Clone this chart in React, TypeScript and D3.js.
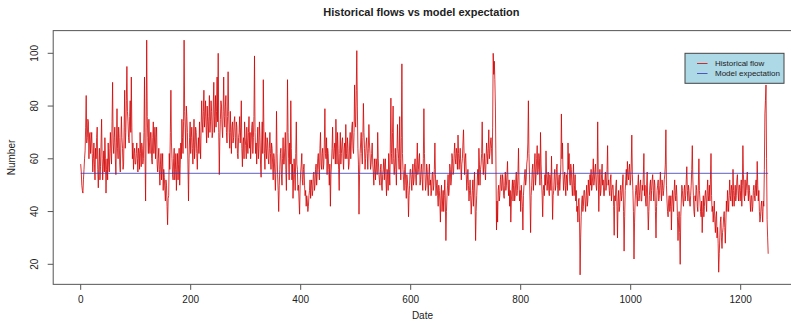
import React from "react";
import { scaleLinear, line } from "d3";

// daily flow, day 0 .. 1250
const flow = [
  58, 55, 50, 48, 47, 52, 56, 60, 63, 72, 84, 66, 68, 75, 74, 60, 69, 70, 62, 66,
  70, 62, 55, 60, 66, 58, 52, 64, 60, 68, 72, 56, 49, 58, 64, 52, 57, 66, 75, 60,
  52, 58, 63, 55, 68, 60, 47, 56, 60, 52, 66, 58, 55, 64, 70, 62, 58, 74, 89, 66,
  62, 68, 72, 60, 54, 66, 79, 64, 60, 72, 68, 58, 55, 66, 76, 68, 64, 56, 58, 72,
  86, 64, 70, 82, 95, 78, 74, 68, 66, 76, 82, 70, 91, 72, 60, 66, 56, 62, 64, 58,
  58, 62, 66, 60, 55, 64, 62, 56, 70, 62, 57, 66, 64, 58, 60, 70, 91, 60, 44, 72,
  105, 76, 68, 62, 75, 66, 62, 70, 70, 60, 58, 68, 74, 62, 66, 72, 60, 68, 72, 58,
  55, 60, 64, 56, 50, 58, 62, 52, 57, 62, 48, 56, 53, 48, 44, 52, 50, 42, 35, 45,
  46, 62, 56, 70, 86, 66, 60, 54, 52, 60, 64, 52, 56, 62, 48, 56, 62, 52, 58, 64,
  50, 58, 66, 60, 75, 68, 62, 74, 105, 78, 72, 64, 80, 76, 70, 58, 44, 60, 68, 74,
  62, 68, 72, 64, 58, 66, 75, 60, 64, 72, 70, 62, 56, 64, 68, 62, 74, 66, 60, 72,
  82, 74, 70, 78, 86, 72, 76, 82, 72, 66, 80, 74, 68, 76, 84, 70, 74, 82, 78, 68,
  70, 80, 89, 70, 76, 84, 72, 78, 91, 74, 100, 70, 54, 68, 75, 82, 80, 72, 68, 78,
  91, 76, 72, 80, 84, 70, 66, 76, 93, 78, 70, 64, 78, 70, 62, 72, 74, 66, 68, 74,
  76, 68, 64, 74, 72, 62, 60, 68, 70, 76, 66, 72, 82, 64, 57, 66, 68, 60, 74, 68,
  65, 60, 72, 66, 62, 70, 76, 64, 70, 60, 66, 72, 74, 62, 68, 76, 99, 70, 62, 66,
  58, 66, 72, 60, 64, 74, 68, 58, 53, 66, 74, 62, 90, 72, 62, 56, 70, 64, 60, 68,
  66, 60, 58, 64, 70, 62, 56, 66, 64, 58, 52, 62, 60, 54, 48, 58, 78, 62, 54, 48,
  40, 50, 56, 62, 64, 54, 50, 60, 68, 58, 58, 64, 70, 56, 48, 66, 90, 70, 60, 52,
  66, 58, 82, 64, 52, 58, 45, 52, 60, 54, 48, 62, 74, 58, 56, 48, 50, 44, 39, 50,
  55, 58, 62, 52, 50, 56, 58, 50, 46, 48, 42, 46, 44, 40, 42, 46, 48, 52, 45, 50,
  52, 46, 48, 54, 55, 48, 50, 56, 58, 50, 54, 60, 62, 56, 52, 64, 70, 58, 56, 62,
  64, 56, 58, 66, 79, 62, 60, 68, 54, 64, 62, 56, 50, 58, 42, 54, 58, 64, 72, 60,
  60, 64, 66, 58, 75, 66, 58, 70, 64, 56, 48, 62, 70, 58, 62, 66, 68, 60, 56, 64,
  66, 60, 73, 62, 60, 68, 64, 56, 58, 66, 70, 60, 66, 72, 74, 64, 62, 70, 88, 74,
  72, 86, 101, 80, 64, 58, 39, 54, 62, 66, 70, 62, 58, 68, 81, 70, 64, 56, 60, 66,
  68, 62, 56, 64, 73, 66, 62, 56, 58, 62, 66, 58, 55, 50, 60, 56, 52, 60, 58, 54,
  70, 60, 55, 52, 50, 56, 58, 50, 48, 54, 56, 60, 52, 58, 60, 52, 46, 56, 54, 48,
  62, 56, 50, 66, 83, 62, 58, 70, 80, 60, 54, 58, 64, 56, 50, 62, 73, 64, 60, 56,
  76, 60, 52, 68, 96, 62, 56, 52, 48, 56, 58, 50, 45, 54, 52, 48, 38, 46, 50, 56,
  56, 52, 48, 54, 58, 50, 52, 58, 60, 54, 50, 58, 66, 54, 56, 60, 62, 50, 52, 56,
  58, 52, 48, 60, 79, 62, 54, 48, 50, 58, 56, 50, 46, 54, 58, 50, 52, 46, 48, 54,
  55, 48, 50, 56, 66, 54, 46, 50, 52, 46, 42, 50, 48, 44, 36, 46, 50, 40, 44, 48,
  40, 46, 52, 44, 29, 40, 46, 50, 54, 46, 48, 58, 56, 50, 52, 62, 60, 54, 55, 62,
  66, 60, 58, 64, 62, 56, 69, 62, 56, 60, 64, 58, 52, 58, 60, 66, 71, 62, 54, 60,
  62, 54, 48, 52, 56, 50, 44, 48, 52, 46, 39, 44, 48, 52, 42, 48, 55, 44, 29, 40,
  46, 52, 56, 50, 64, 58, 50, 56, 58, 62, 74, 60, 54, 58, 62, 56, 52, 60, 66, 62,
  58, 64, 71, 60, 62, 66, 68, 64, 58, 72, 100, 92, 97, 90, 80, 58, 33, 44, 36, 48,
  50, 44, 46, 52, 54, 48, 48, 54, 52, 46, 45, 50, 55, 48, 50, 54, 59, 50, 46, 52,
  42, 48, 36, 44, 48, 52, 44, 50, 52, 44, 46, 52, 55, 46, 48, 54, 64, 50, 44, 48,
  40, 50, 46, 42, 33, 46, 50, 54, 56, 50, 52, 58, 60, 66, 82, 62, 54, 44, 32, 46,
  50, 56, 58, 48, 52, 58, 62, 50, 54, 60, 65, 54, 56, 62, 60, 50, 70, 58, 52, 46,
  38, 48, 50, 46, 54, 50, 63, 54, 48, 52, 55, 48, 46, 54, 52, 48, 61, 50, 37, 46,
  48, 54, 56, 48, 50, 56, 58, 50, 46, 52, 54, 48, 52, 58, 77, 60, 66, 54, 48, 52,
  55, 50, 46, 54, 52, 48, 66, 56, 62, 52, 50, 58, 56, 50, 46, 52, 58, 46, 50, 54,
  44, 48, 40, 42, 36, 44, 45, 36, 16, 30, 38, 44, 46, 40, 42, 48, 48, 44, 40, 46,
  50, 42, 44, 52, 48, 46, 54, 50, 56, 48, 50, 54, 60, 50, 52, 56, 58, 50, 48, 54,
  74, 54, 40, 50, 56, 46, 48, 54, 58, 50, 52, 46, 46, 52, 55, 48, 50, 56, 65, 50,
  52, 48, 46, 52, 54, 44, 48, 50, 50, 42, 31, 46, 44, 50, 52, 42, 30, 44, 48, 40,
  42, 48, 50, 44, 46, 50, 54, 40, 25, 38, 48, 52, 56, 50, 59, 54, 52, 56, 58, 50,
  52, 58, 69, 54, 48, 40, 22, 36, 44, 48, 50, 46, 42, 50, 54, 44, 46, 50, 52, 44,
  44, 50, 48, 54, 62, 46, 50, 44, 42, 50, 55, 42, 33, 40, 46, 50, 52, 44, 48, 52,
  54, 48, 44, 52, 50, 40, 30, 42, 48, 50, 52, 44, 46, 50, 55, 48, 44, 52, 50, 46,
  48, 52, 54, 58, 71, 50, 44, 40, 38, 44, 46, 40, 42, 46, 33, 42, 48, 44, 40, 48,
  52, 46, 44, 50, 46, 38, 29, 36, 40, 32, 20, 38, 44, 50, 48, 44, 42, 48, 50, 44,
  46, 52, 57, 48, 44, 50, 48, 44, 42, 46, 50, 56, 65, 52, 46, 40, 38, 46, 44, 50,
  48, 42, 40, 50, 60, 48, 44, 40, 38, 44, 32, 40, 46, 38, 42, 46, 48, 44, 40, 48,
  52, 44, 46, 50, 44, 52, 62, 46, 40, 42, 36, 40, 44, 36, 32, 38, 40, 30, 34, 28,
  17, 24, 30, 36, 38, 30, 26, 32, 34, 38, 40, 34, 28, 36, 44, 40, 48, 44, 40, 46,
  52, 46, 44, 50, 48, 42, 56, 48, 42, 46, 50, 44, 46, 52, 54, 48, 44, 50, 50, 44,
  48, 52, 42, 50, 65, 54, 46, 44, 52, 46, 48, 52, 55, 48, 44, 50, 48, 44, 40, 46,
  46, 40, 42, 48, 50, 46, 44, 50, 52, 46, 59, 50, 44, 48, 40, 36, 38, 42, 44, 40,
  36, 44, 42, 56, 77, 82, 88, 60, 37, 30, 24,
];
const modelExpectation = 54.5;

const xTicks = [0, 200, 400, 600, 800, 1000, 1200];
const yTicks = [20, 40, 60, 80, 100];
const legendLabels = ["Historical flow", "Model expectation"];

const W = 791;
const H = 321;
const font = "'Liberation Sans', Arial, Helvetica, sans-serif";
const textCol = "#222";
const axisCol = "#555";
const flowCol = "#d20000";
const modelCol = "#3636b0";

export default function App() {
  const x = scaleLinear().domain([0, 1200]).range([80.7, 740.7]);
  const y = scaleLinear().domain([20, 100]).range([264.3, 53.3]);

  const lastDay = flow.length - 1;
  const boxL = x(-50);
  const boxR = x(1300);
  const boxT = y(108.6);
  const boxB = y(12.4);

  const flowPath = line<number>()
    .x((_, i) => x(i))
    .y((v) => y(v))(flow);

  const cx = (boxL + boxR) / 2;

  return (
    <svg
      width={W}
      height={H}
      style={{ position: "absolute", left: 0, top: 0, background: "#fff" }}
      fontFamily={font}
    >
      <rect x={0} y={0} width={W} height={H} fill="#fff" />
      <text x={cx - 3} y={16} textAnchor="middle" fontSize={11} fontWeight="bold" fill={textCol}>
        Historical flows vs model expectation
      </text>

      <path d={flowPath || ""} fill="none" stroke={flowCol} strokeWidth={0.8} />
      <line
        x1={x(0)}
        x2={x(lastDay)}
        y1={y(modelExpectation)}
        y2={y(modelExpectation)}
        stroke={modelCol}
        strokeWidth={0.8}
      />

      <rect x={boxL} y={boxT} width={boxR - boxL} height={boxB - boxT} fill="none" stroke={axisCol} strokeWidth={1} />

      {xTicks.map((t) => (
        <g key={t}>
          <line x1={x(t)} x2={x(t)} y1={boxB} y2={boxB + 5.5} stroke={axisCol} />
          <text x={x(t)} y={303} textAnchor="middle" fontSize={10} fill={textCol}>
            {t}
          </text>
        </g>
      ))}
      {yTicks.map((t) => (
        <g key={t}>
          <line x1={boxL - 5.5} x2={boxL} y1={y(t)} y2={y(t)} stroke={axisCol} />
          <text
            transform={`translate(${38},${y(t)}) rotate(-90)`}
            textAnchor="middle"
            fontSize={10}
            fill={textCol}
          >
            {t}
          </text>
        </g>
      ))}

      <text x={cx - 2} y={319} textAnchor="middle" fontSize={10} fill={textCol}>
        Date
      </text>
      <text
        transform={`translate(${15},${157.5}) rotate(-90)`}
        textAnchor="middle"
        fontSize={10}
        fill={textCol}
      >
        Number
      </text>

      <g>
        <rect x={685} y={53.3} width={99} height={30} fill="#add8e6" stroke="#444" strokeWidth={1} />
        {legendLabels.map((lab, i) => (
          <g key={lab}>
            <line
              x1={697}
              x2={707.5}
              y1={63.5 + i * 10}
              y2={63.5 + i * 10}
              stroke={i === 0 ? flowCol : modelCol}
              strokeWidth={0.8}
            />
            <text x={715} y={66.3 + i * 10} fontSize={8} fill={textCol}>
              {lab}
            </text>
          </g>
        ))}
      </g>
    </svg>
  );
}
